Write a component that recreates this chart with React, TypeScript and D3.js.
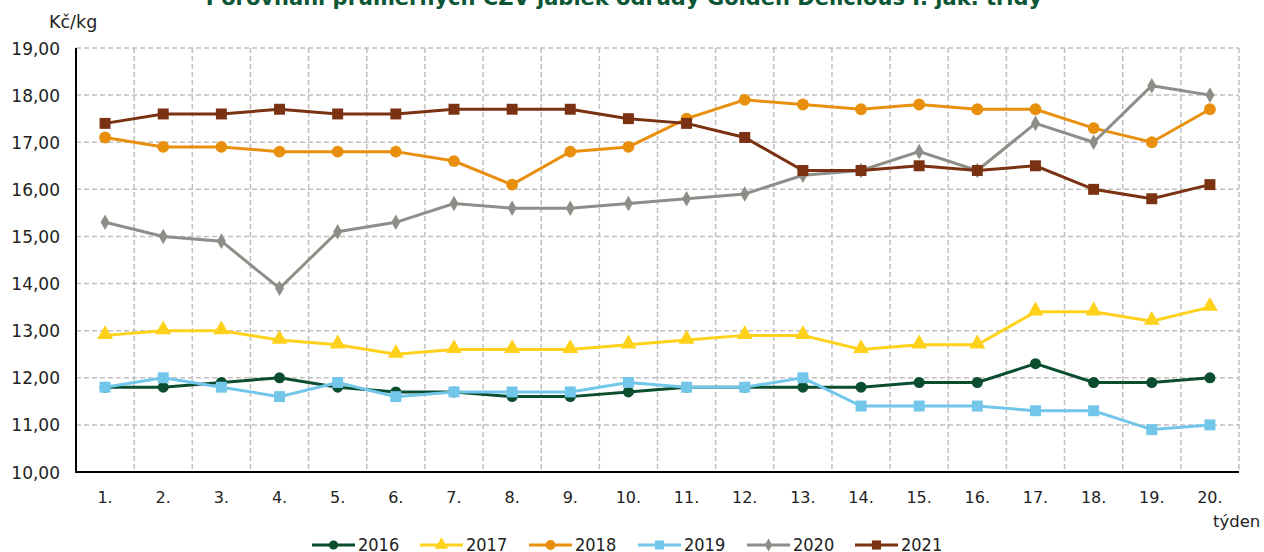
import React from "react";
import * as d3 from "d3";

const weeks = ["1.", "2.", "3.", "4.", "5.", "6.", "7.", "8.", "9.", "10.", "11.", "12.", "13.", "14.", "15.", "16.", "17.", "18.", "19.", "20."];
const yTicks = [10, 11, 12, 13, 14, 15, 16, 17, 18, 19];

const s2016 = [11.8, 11.8, 11.9, 12.0, 11.8, 11.7, 11.7, 11.6, 11.6, 11.7, 11.8, 11.8, 11.8, 11.8, 11.9, 11.9, 12.3, 11.9, 11.9, 12.0];
const s2017 = [12.9, 13.0, 13.0, 12.8, 12.7, 12.5, 12.6, 12.6, 12.6, 12.7, 12.8, 12.9, 12.9, 12.6, 12.7, 12.7, 13.4, 13.4, 13.2, 13.5];
const s2018 = [17.1, 16.9, 16.9, 16.8, 16.8, 16.8, 16.6, 16.1, 16.8, 16.9, 17.5, 17.9, 17.8, 17.7, 17.8, 17.7, 17.7, 17.3, 17.0, 17.7];
const s2019 = [11.8, 12.0, 11.8, 11.6, 11.9, 11.6, 11.7, 11.7, 11.7, 11.9, 11.8, 11.8, 12.0, 11.4, 11.4, 11.4, 11.3, 11.3, 10.9, 11.0];
const s2020 = [15.3, 15.0, 14.9, 13.9, 15.1, 15.3, 15.7, 15.6, 15.6, 15.7, 15.8, 15.9, 16.3, 16.4, 16.8, 16.4, 17.4, 17.0, 18.2, 18.0];
const s2021 = [17.4, 17.6, 17.6, 17.7, 17.6, 17.6, 17.7, 17.7, 17.7, 17.5, 17.4, 17.1, 16.4, 16.4, 16.5, 16.4, 16.5, 16.0, 15.8, 16.1];

const seriesNames = ["2016", "2017", "2018", "2019", "2020", "2021"];
const seriesData = [s2016, s2017, s2018, s2019, s2020, s2021];
const seriesColors = ["#0b4d2f", "#ffd11a", "#e8900e", "#72c6ea", "#8e8e88", "#7a3212"];
const seriesSymbols = [d3.symbolCircle, d3.symbolTriangle, d3.symbolCircle, d3.symbolSquare, d3.symbolDiamond, d3.symbolSquare];
const symbolSizes = [95, 110, 110, 120, 70, 120];
const legendX = [312, 420, 529, 638, 747, 855];

const title = "Porovnání průměrných CZV jablek odrůdy Golden Delicious I. jak. třídy";

export default function App() {
  const W = 1264, H = 552;
  const left = 76, right = 1239, top = 48, bottom = 472;
  const x = d3.scaleBand<string>().domain(weeks).range([left, right]).padding(0);
  const y = d3.scaleLinear().domain([10, 19]).range([bottom, top]);
  const cx = (i: number) => (x(weeks[i]) as number) + x.bandwidth() / 2;
  const line = d3.line<number>().x((_, i) => cx(i)).y((d) => y(d));
  const font = "'DejaVu Sans', Verdana, sans-serif";

  return (
    <svg width={W} height={H} style={{ position: "absolute", left: 0, top: 0 }} fontFamily={font}>
      <rect width={W} height={H} fill="#fff" />
      <text x={624} y={5} textAnchor="middle" fontWeight="bold" fontSize={21} fill="#0b5635">{title}</text>
      <text x={49} y={28} fontSize={17.5} fill="#222">Kč/kg</text>
      {yTicks.map((t) => (
        <g key={t}>
          {t > 10 && <line x1={left} x2={right} y1={y(t)} y2={y(t)} stroke="#c0c0c0" strokeWidth={1.5} strokeDasharray="5,3" />}
          <text x={60} y={y(t) + 6.5} textAnchor="end" fontSize={17} fill="#222">{t.toFixed(2).replace(".", ",")}</text>
        </g>
      ))}
      {weeks.map((w, i) => (
        <g key={w}>
          <line x1={(x(w) as number) + x.bandwidth()} x2={(x(w) as number) + x.bandwidth()} y1={top} y2={bottom} stroke="#c0c0c0" strokeWidth={1.5} strokeDasharray="5,3" />
          <text x={cx(i)} y={503} textAnchor="middle" fontSize={16} fill="#222">{w}</text>
        </g>
      ))}
      <line x1={left} x2={left} y1={top} y2={bottom} stroke="#000" strokeWidth={2} />
      <line x1={left - 1} x2={right} y1={bottom} y2={bottom} stroke="#000" strokeWidth={2} />
      <text x={1213} y={527} fontSize={16.5} fill="#222">týden</text>
      {seriesData.map((data, si) => {
        const sym = d3.symbol().type(seriesSymbols[si]).size(symbolSizes[si]);
        return (
          <g key={si}>
            <path d={line(data) || ""} fill="none" stroke={seriesColors[si]} strokeWidth={3} />
            {data.map((v, i) => (
              <path key={i} d={sym() || ""} transform={`translate(${cx(i)},${y(v) - (seriesSymbols[si] === d3.symbolTriangle ? 1 : 0)})`} fill={seriesColors[si]} />
            ))}
          </g>
        );
      })}
      {seriesNames.map((n, si) => {
        const sym = d3.symbol().type(seriesSymbols[si]).size(symbolSizes[si] * 0.7);
        const lx = legendX[si];
        return (
          <g key={n}>
            <line x1={lx} x2={lx + 43} y1={545} y2={545} stroke={seriesColors[si]} strokeWidth={3} />
            <path d={sym() || ""} transform={`translate(${lx + 21.5},545)`} fill={seriesColors[si]} />
            <text x={lx + 46} y={551} fontSize={18} fill="#222" fontFamily="'DejaVu Sans Condensed', 'DejaVu Sans', sans-serif">{n}</text>
          </g>
        );
      })}
    </svg>
  );
}
